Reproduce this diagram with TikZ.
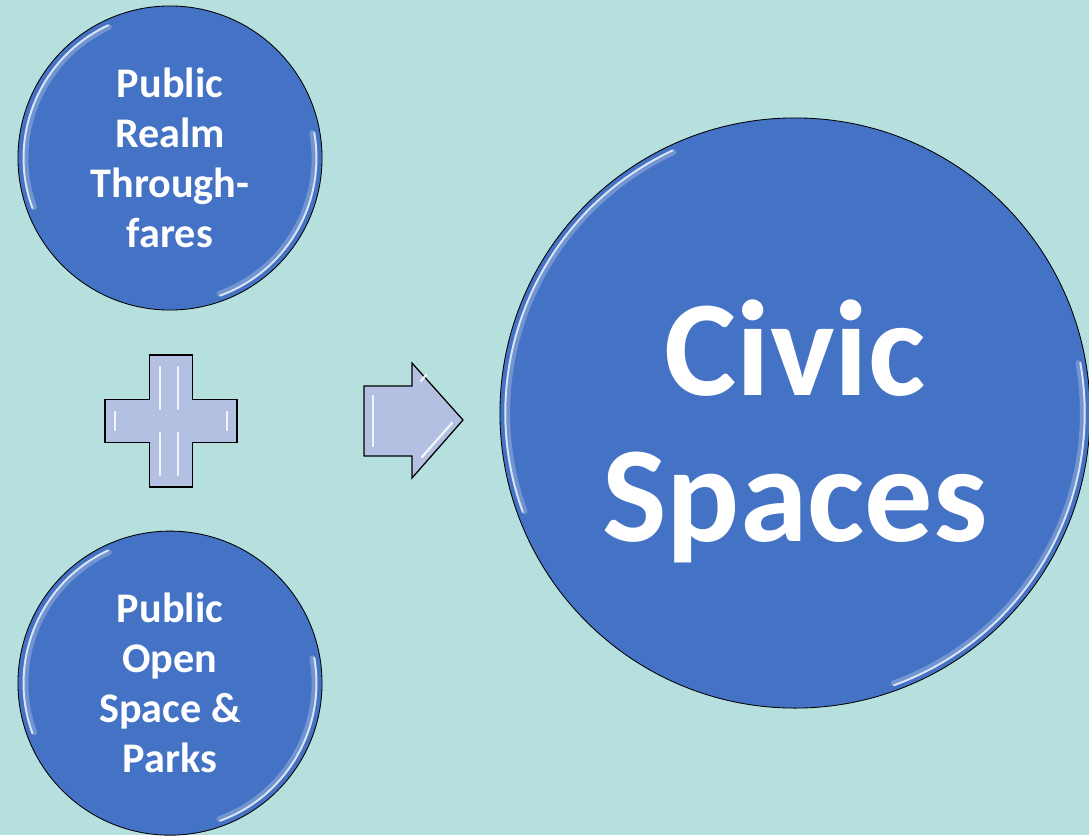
\documentclass[tikz,border=0pt]{standalone}
\usepackage{fontspec}
\setmainfont{Carlito}
\usetikzlibrary{arrows}

\definecolor{bgteal}{RGB}{182,224,221}
\definecolor{discblue}{RGB}{68,114,196}
\definecolor{bevel}{RGB}{180,192,226}

\begin{document}
\begin{tikzpicture}[x=0.025cm, y=-0.025cm, node distance=13.125cm]
      \tikzstyle{disc} = [draw, circle, fill=discblue, text=white, align=center, inner sep=0pt, line width=0.6pt]
      \tikzstyle{gloss} = [white, opacity=0.75, line width=1.4pt, line cap=round]
      \tikzstyle{glow} = [white, opacity=0.25, line width=4pt, line cap=round]
      \tikzstyle{bevelshape} = [draw, fill=bevel, line width=0.9pt, line join=miter]
      \tikzstyle{shine} = [white, opacity=0.85, line width=1.6pt, line cap=round]
      \fill[bgteal] (0,0) rectangle (1089,835);
      \useasboundingbox (0,0) rectangle (1089,835);
      \clip (0,0) rectangle (1089,835);
      \begin{scope}
	\path
	node[disc, minimum size=7.6cm, font=\bfseries\fontsize{30}{35.5}\selectfont] (realm) at (170,158) {Public\\Realm\\Through-\\fares}
	node[disc, minimum size=7.6cm, font=\bfseries\fontsize{30}{35.5}\selectfont, below of=realm] (parks) {Public\\Open\\Space \&\\Parks}
	node[disc, minimum size=14.75cm, label={[text=white, align=center, yshift=-0.45cm, font=\bfseries\fontsize{97}{104}\selectfont]center:Civic\\Spaces}] (civic) at (795,413) {}
	;
	% glossy rims
	\foreach \n/\r in {realm/3.66cm, parks/3.66cm, civic/7.24cm} {
	  \draw[glow] (\n.center) ++(115:\r-0.05cm) arc[start angle=115, end angle=200, radius=\r-0.05cm];
	  \draw[gloss] (\n.center) ++(115:\r) arc[start angle=115, end angle=200, radius=\r];
	  \draw[glow] (\n.center) ++(-70:\r-0.05cm) arc[start angle=-70, end angle=10, radius=\r-0.05cm];
	  \draw[gloss] (\n.center) ++(-70:\r) arc[start angle=-70, end angle=10, radius=\r];
	}
      \end{scope}
      % plus sign
      \coordinate (plus) at (171,421);
      \draw[bevelshape] (plus) ++(-21.5,-66) -- ++(43,0) -- ++(0,44.5) -- ++(44.5,0)
	-- ++(0,43) -- ++(-44.5,0) -- ++(0,44.5) -- ++(-43,0) -- ++(0,-44.5)
	-- ++(-44.5,0) -- ++(0,-43) -- ++(44.5,0) -- cycle;
      \draw[shine] (plus) ++(-11,-54) -- ++(0,42);
      \draw[shine] (plus) ++(7,-54) -- ++(0,42);
      \draw[shine] (plus) ++(-11,12) -- ++(0,42);
      \draw[shine] (plus) ++(7,12) -- ++(0,42);
      \draw[shine] (plus) ++(-56,-9) -- ++(0,18);
      \draw[shine] (plus) ++(56,-9) -- ++(0,18);
      % arrow
      \coordinate (go) at (364,421);
      \draw[bevelshape] (go) ++(0,-35) -- ++(48,0) -- ++(0,-23) -- ++(51,57)
	-- ++(-51,58) -- ++(0,-22) -- ++(-48,0) -- cycle;
      \draw[shine] (go) ++(9,-25) -- ++(0,50);
      \draw[shine] (go) ++(88,2) -- ++(-30,34);
      \draw[shine] (go) ++(57,-40) -- ++(5,-6);
\end{tikzpicture}
\end{document}
